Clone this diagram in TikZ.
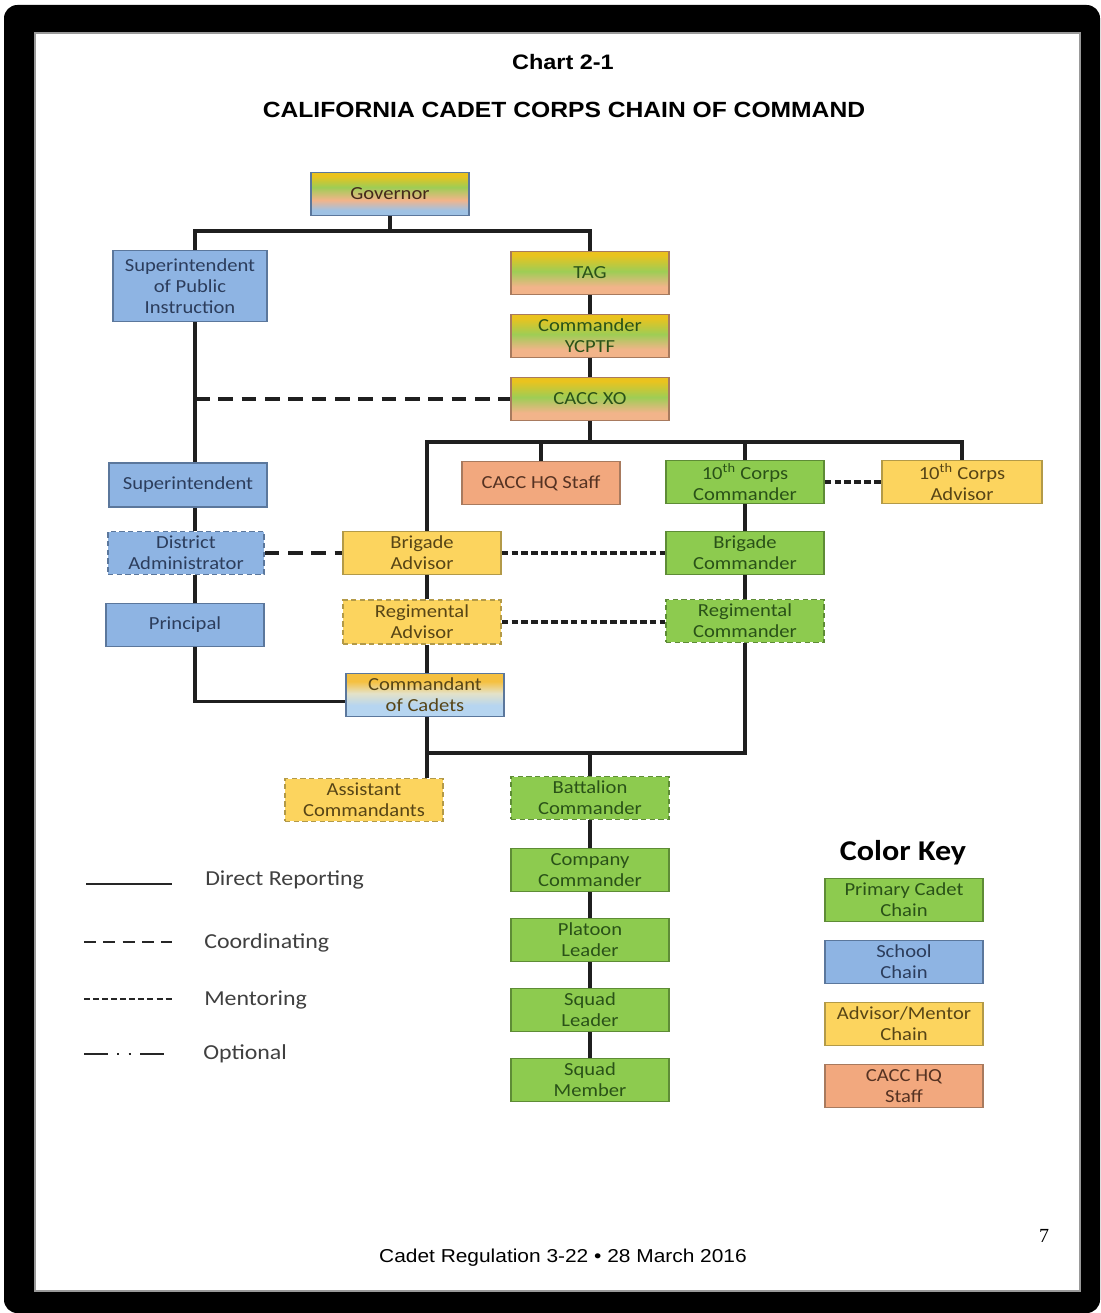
\documentclass[tikz,border=0pt]{standalone}
\usepackage{fontspec}
\usepackage{graphicx}
\setmainfont{Carlito}[FakeStretch=1.12]
\newfontfamily\arialf{Liberation Sans}[FakeStretch=1.12]
\newfontfamily\timesf{Liberation Serif}

\definecolor{cgreen}{HTML}{8DCB4F}
\definecolor{cgreenD}{HTML}{5E8C36}
\definecolor{cgreenT}{HTML}{2A5218}
\definecolor{cblue}{HTML}{8EB4E3}
\definecolor{cblueD}{HTML}{5B779C}
\definecolor{cblueT}{HTML}{2C3D5C}
\definecolor{cyel}{HTML}{FCD45E}
\definecolor{cyelD}{HTML}{B39A48}
\definecolor{cyelT}{HTML}{574516}
\definecolor{cpeach}{HTML}{F2A87E}
\definecolor{cpeachD}{HTML}{A87A5E}
\definecolor{cpeachT}{HTML}{553222}
\definecolor{gy}{HTML}{EAC31E}
\definecolor{gg}{HTML}{9ECD55}
\definecolor{gp}{HTML}{F2B48A}
\definecolor{gb}{HTML}{9FC2E4}
\definecolor{cy}{HTML}{F5C040}
\definecolor{cw}{HTML}{E4E2C8}
\definecolor{cb}{HTML}{B6D5F0}

\pgfdeclareverticalshading{govsh}{100bp}{color(0bp)=(gb); color(25bp)=(gb); color(31bp)=(gb); color(43bp)=(gp); color(58bp)=(gg); color(71bp)=(gy); color(75bp)=(gy); color(100bp)=(gy)}
\pgfdeclareverticalshading{tagsh}{100bp}{color(0bp)=(gp); color(25bp)=(gp); color(34bp)=(gp); color(52bp)=(gg); color(71bp)=(gy); color(75bp)=(gy); color(100bp)=(gy)}
\pgfdeclareverticalshading{comsh}{100bp}{color(0bp)=(cb); color(25bp)=(cb); color(38bp)=(cb); color(52bp)=(cw); color(66bp)=(cy); color(75bp)=(cy); color(100bp)=(cy)}

\begin{document}
\begin{tikzpicture}[x=0.75pt,y=-0.75pt,
  base/.style={rectangle, inner sep=0pt, align=center, minimum width=118.5pt, minimum height=32pt, line width=1.1pt, font=\fontsize{13.8}{15.75}\selectfont},
  gbox/.style={base, fill=cgreen, draw=cgreenD, text=cgreenT},
  bbox/.style={base, fill=cblue, draw=cblueD, text=cblueT},
  ybox/.style={base, fill=cyel, draw=cyelD, text=cyelT},
  pbox/.style={base, fill=cpeach, draw=cpeachD, text=cpeachT},
  govbox/.style={base, shading=govsh, draw=cblueD, text=cpeachT!80!black},
  tagbox/.style={base, shading=tagsh, draw=cpeachD, text=cgreenT},
  combox/.style={base, shading=comsh, draw=cblueD, text=cyelT},
  dbox/.style={dash pattern=on 4pt off 2.5pt},
  direct/.style={line width=2.5pt, draw=black!88},
  coordl/.style={direct, dash pattern=on 11pt off 6.5pt},
  mentor/.style={line width=2.3pt, draw=black!88, dash pattern=on 5pt off 2.4pt},
  legtxt/.style={anchor=west, inner sep=0pt, text=black!75, font=\fontsize{16}{19}\selectfont}
]
\useasboundingbox (0,0) rectangle (1100,1313);
% frame
\fill[white] (0,0) rectangle (1100,1313);
\fill[black, rounded corners=10pt] (4,5) rectangle (1100,1313);
\fill[white] (35,33) rectangle (1080,1291);
\draw[black!40, line width=2.2pt] (35,33) rectangle (1080,1291);

% titles
\node[inner sep=0pt, font=\arialf\bfseries\fontsize{15.7}{18}\selectfont] (t1) at (563,62) {Chart 2-1};
\node[inner sep=0pt, font=\arialf\bfseries\fontsize{16.5}{19}\selectfont] (t2) at (564,110) {CALIFORNIA CADET CORPS CHAIN OF COMMAND};

% coordinates of vertical lines
\coordinate (lx) at (195,0);
\coordinate (mx) at (427,0);

% nodes
\node[govbox] (gov) at (390,194) {Governor};
\node[bbox, minimum width=115.5pt, minimum height=53pt] (spi) at (190,286) {Superintendent\\of Public\\Instruction};
\node[tagbox] (tag) at (590,273) {TAG};
\node[tagbox] (ycptf) at (590,336) {Commander\\YCPTF};
\node[tagbox] (xo) at (590,399) {CACC XO};
\node[pbox] (hq) at (541,483) {CACC HQ Staff};
\node[gbox] (corpsc) at (745,482) {10\textsuperscript{th} Corps\\Commander};
\node[ybox, minimum width=120pt] (corpsa) at (962,482) {10\textsuperscript{th} Corps\\Advisor};
\node[bbox, minimum height=33pt] (supt) at (188,485) {Superintendent};
\node[bbox, dbox, minimum width=117pt] (dist) at (186,553) {District\\Administrator};
\node[ybox] (brigA) at (422,553) {Brigade\\Advisor};
\node[gbox] (brigC) at (745,553) {Brigade\\Commander};
\node[bbox] (prin) at (185,625) {Principal};
\node[ybox, dbox, minimum height=33pt] (regA) at (422,622) {Regimental\\Advisor};
\node[gbox, dbox] (regC) at (745,621) {Regimental\\Commander};
\node[combox] (comdt) at (425,695) {Commandant\\of Cadets};
\node[ybox, dbox] (asst) at (364,800) {Assistant\\Commandants};
\node[gbox, dbox] (batt) at (590,798) {Battalion\\Commander};
\node[gbox] (coy) at (590,870) {Company\\Commander};
\node[gbox] (plt) at (590,940) {Platoon\\Leader};
\node[gbox] (sql) at (590,1010) {Squad\\Leader};
\node[gbox] (sqm) at (590,1080) {Squad\\Member};

% connectors: top
\coordinate (bus0) at (390,231);
\draw[direct] (gov.south) -- (bus0);
\draw[direct] (spi.north -| lx) |- (bus0) -| (tag.north);
\draw[direct] (tag.south) -- (ycptf.north);
\draw[direct] (ycptf.south) -- (xo.north);
% school chain
\draw[direct] (spi.south -| lx) -- (supt.north -| lx);
\draw[direct] (supt.south -| lx) -- (dist.north -| lx);
\draw[direct] (dist.south -| lx) -- (prin.north -| lx);
\draw[direct] (prin.south -| lx) |- ([yshift=-5pt]comdt.west);
\draw[coordl] (xo.west -| lx) -- (xo.west);
% XO bus
\coordinate (bus1) at (590,442);
\draw[direct] (xo.south) -- (bus1);
\draw[direct] (brigA.north -| mx) |- (bus1) -| (corpsa.north);
\draw[direct] (hq.north) -- (hq.north |- bus1);
\draw[direct] (corpsc.north) -- (corpsc.north |- bus1);
% advisor chain
\draw[direct] (brigA.south -| mx) -- (regA.north -| mx);
\draw[direct] (regA.south -| mx) -- (comdt.north -| mx);
\draw[direct] (comdt.south -| mx) -- (asst.north -| mx);
% commander chain
\draw[direct] (corpsc.south) -- (brigC.north);
\draw[direct] (brigC.south) -- (regC.north);
\coordinate (bus2) at (590,753);
\draw[direct] (regC.south) |- (bus2 -| mx);
\draw[direct] (batt.north) -- (batt.north |- bus2);
\draw[direct] (batt.south) -- (coy.north);
\draw[direct] (coy.south) -- (plt.north);
\draw[direct] (plt.south) -- (sql.north);
\draw[direct] (sql.south) -- (sqm.north);
% horizontal relations
\draw[coordl] (dist.east) -- (brigA.west);
\draw[mentor] (brigA.east) -- (brigA.east -| brigC.west);
\draw[mentor] (regA.east) -- (regA.east -| regC.west);
\draw[mentor] (corpsc.east) -- (corpsa.west);

% legend
\coordinate (l1a) at (86,884); \coordinate (l1b) at (172,884);
\coordinate (l2a) at (84,942); \coordinate (l2b) at (172,942);
\coordinate (l3a) at (84,999); \coordinate (l3b) at (172,999);
\coordinate (l4a) at (84,1054); \coordinate (l4b) at (169,1054);
\draw[line width=2.2pt, black!85] (l1a) -- (l1b);
\draw[line width=2.2pt, black!85, dash pattern=on 9pt off 5.5pt] (l2a) -- (l2b);
\draw[line width=2.2pt, black!85, dash pattern=on 4.5pt off 2.3pt] (l3a) -- (l3b);
\draw[line width=2.2pt, black!85, dash pattern=on 18pt off 7pt on 1.5pt off 7pt on 1.5pt off 7pt] (l4a) -- (l4b);
\node[legtxt] (lt1) at (205,880) {Direct Reporting};
\node[legtxt] (lt2) at (204,943) {Coordinating};
\node[legtxt] (lt3) at (204,1000) {Mentoring};
\node[legtxt] (lt4) at (203,1054) {Optional};

% color key
\node[inner sep=0pt, font=\bfseries\fontsize{21.5}{25}\selectfont] (ck) at (903,853) {Color Key};
\node[gbox] (k1) at (904,900) {Primary Cadet\\Chain};
\node[bbox] (k2) at (904,962) {School\\Chain};
\node[ybox] (k3) at (904,1024) {Advisor/Mentor\\Chain};
\node[pbox] (k4) at (904,1086) {CACC HQ\\Staff};

% footer
\node[inner sep=0pt, font=\arialf\fontsize{14}{16}\selectfont] (foot) at (563,1258) {Cadet Regulation 3-22 • 28 March 2016};
\node[inner sep=0pt, font=\timesf\fontsize{15}{18}\selectfont] (pg) at (1044,1236) {7};
\end{tikzpicture}
\end{document}
